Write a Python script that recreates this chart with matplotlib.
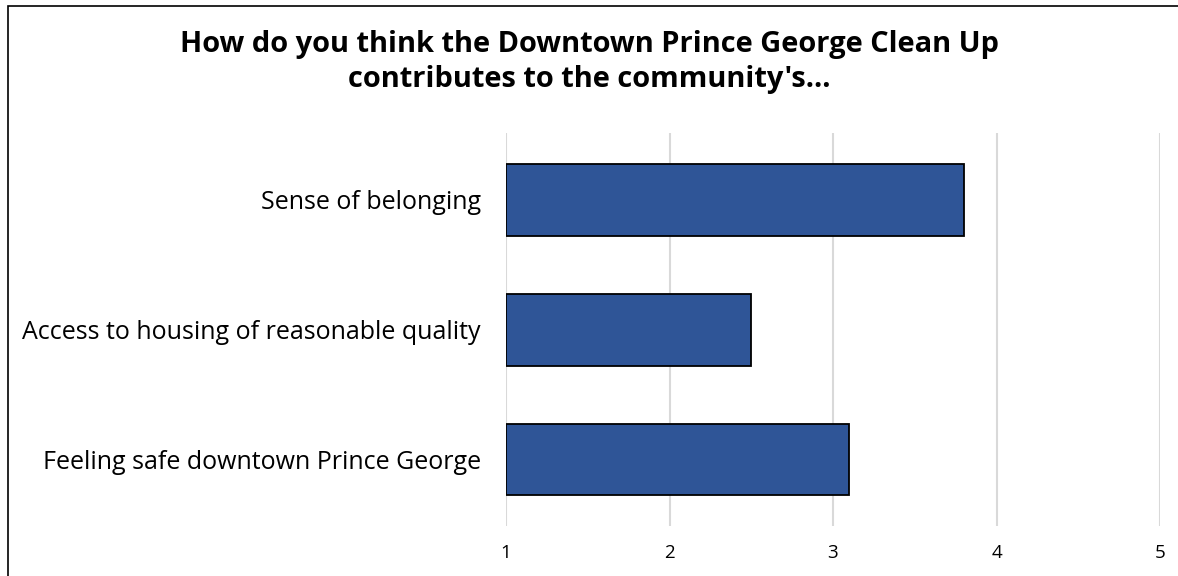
import matplotlib.pyplot as plt
from matplotlib.patches import Rectangle

plt.rcParams['font.family'] = ['Open Sans', 'DejaVu Sans']

# Survey responses (mean rating on a 1-5 scale)
categories = ["Sense of belonging",
              "Access to housing of reasonable quality",
              "Feeling safe downtown Prince George"]
scores = [3.8, 2.5, 3.1]
x_ticks = [1, 2, 3, 4, 5]
title = "How do you think the Downtown Prince George Clean Up\ncontributes to the community's..."

fig = plt.figure(figsize=(11.78, 5.76), dpi=100)
ax = fig.add_axes([506 / 1178, 1 - 526 / 576, 654 / 1178, 393 / 576])

# chart frame
fig.patches.append(Rectangle((8 / 1178, -0.1), 1.2, 1 - 6 / 576 + 0.1,
                             transform=fig.transFigure, fill=False,
                             edgecolor='black', linewidth=1.2))

ypos = list(range(len(categories)))
ax.barh(ypos, [s - 1 for s in scores], left=1, height=0.55,
        color='#2F5597', edgecolor='black', linewidth=1.3, zorder=3)

ax.set_xlim(1, 5)
ax.set_ylim(2.51, -0.515)
ax.set_xticks(x_ticks)
ax.set_yticks(ypos)
ax.set_yticklabels(categories, fontsize=18)
ax.tick_params(axis='y', length=0, pad=18)
ax.tick_params(axis='x', length=0, pad=13, labelsize=13.5)
ax.grid(axis='x', color='#d9d9d9', linewidth=1.5, zorder=0)
for s in ax.spines.values():
    s.set_visible(False)

fig.text(0.5, 1 - 62 / 576, title, ha='center', va='center',
         fontsize=20.9, fontweight='bold', linespacing=1.3)

fig.savefig("out.png", dpi=100)
